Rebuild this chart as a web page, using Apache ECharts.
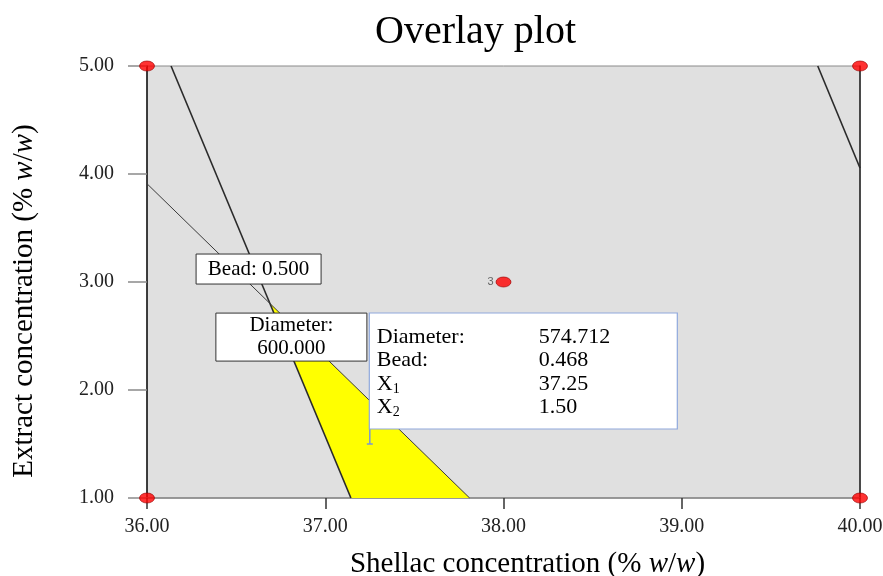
<!DOCTYPE html>
<html><head><meta charset="utf-8">
<script src="https://cdn.jsdelivr.net/npm/echarts@6/dist/echarts.min.js"></script>
<style>html,body{margin:0;padding:0;background:#fff;overflow:hidden}#c{width:883px;height:576px}</style>
</head><body><div id="c"></div>
<script>
// ---- data ----
const chartTitle = 'Overlay plot';
const xMin = 36, xMax = 40, xStep = 1;
const yMin = 1, yMax = 5, yStep = 1;
const designPoints = [[36, 5], [40, 5], [36, 1], [40, 1], [38, 3]];
const designLabels = ['', '', '', '', '3'];
const diameterContour = [[36.135, 5], [37.144, 1]];
const diameterContour2 = [[39.763, 5], [40, 4.056]];
const beadContour = [[36, 3.91], [37.81, 1]];
const sweetSpot = [[36.69, 2.80], [37.144, 1], [37.81, 1]];
const beadLabelPos = [36.626, 3.12];
const beadLabelText = 'Bead: 0.500';
const diamLabelPos = [36.81, 2.49];
const diamLabelText = 'Diameter:\n600.000';
const flagPoint = [37.25, 1.50];
const flagNames = ['Diameter:', 'Bead:', 'X|1', 'X|2'];
const flagValues = ['574.712', '0.468', '37.25', '1.50'];

const FONT = '"Liberation Serif", "Times New Roman", serif';
const chart = echarts.init(document.getElementById('c'), null, {renderer: 'canvas'});

function polygonSeries(points) {
  return {
    type: 'custom', z: 2, silent: true,
    data: [0],
    renderItem: function (params, api) {
      const pts = points.map(p => api.coord(p));
      return {type: 'polygon', shape: {points: pts},
        style: {fill: '#ffff00', stroke: null}};
    }
  };
}

chart.setOption({
  animation: false,
  backgroundColor: '#ffffff',
  title: {
    text: chartTitle, left: 370, top: 7,
    textStyle: {fontFamily: FONT, fontSize: 40, fontWeight: 'normal', color: '#000'}
  },
  grid: {
    left: 147, right: 23, top: 66, bottom: 78, containLabel: false, outerBoundsMode: 'none',
    show: true, backgroundColor: '#e0e0e0', borderColor: '#8a8a8a', borderWidth: 1
  },
  xAxis: {
    type: 'value', min: xMin, max: xMax, interval: xStep,
    name: 'Shellac concentration (% {i|w}/{i|w})',
    nameLocation: 'middle', nameGap: 52,
    nameTextStyle: {fontFamily: FONT, fontSize: 29, color: '#000', padding: [0, 0, 0, 48],
      rich: {i: {fontFamily: FONT, fontSize: 29, fontStyle: 'italic', color: '#000'}}},
    axisLine: {show: true, lineStyle: {color: '#8a8a8a', width: 1.5}},
    axisTick: {show: true, length: 11, lineStyle: {color: '#333', width: 1.5}},
    axisLabel: {fontFamily: FONT, fontSize: 20, color: '#222', margin: 19,
      formatter: v => v.toFixed(2)},
    splitLine: {show: false}
  },
  yAxis: [{
    type: 'value', min: yMin, max: yMax, interval: yStep,
    name: 'Extract concentration (% {i|w}/{i|w})',
    nameLocation: 'middle', nameGap: 108,
    nameTextStyle: {fontFamily: FONT, fontSize: 29, color: '#000', padding: [0, 38, 0, 0],
      rich: {i: {fontFamily: FONT, fontSize: 29, fontStyle: 'italic', color: '#000'}}},
    axisLine: {show: true, lineStyle: {color: '#111', width: 1.5}},
    axisTick: {show: true, length: 19, lineStyle: {color: '#8a8a8a', width: 1.5}},
    axisLabel: {fontFamily: FONT, fontSize: 20, color: '#222', margin: 33,
      formatter: v => v.toFixed(2)},
    splitLine: {show: false}
  }, {
    type: 'value', min: yMin, max: yMax, interval: yStep, position: 'right',
    axisLine: {show: true, lineStyle: {color: '#222', width: 1.5}},
    axisTick: {show: false}, axisLabel: {show: false}, splitLine: {show: false}
  }],
  series: [
    polygonSeries(sweetSpot),
    {type: 'line', data: diameterContour, showSymbol: false, z: 3, silent: true,
      lineStyle: {color: '#2a2a2a', width: 1.6}},
    {type: 'line', data: diameterContour2, showSymbol: false, z: 3, silent: true,
      lineStyle: {color: '#2a2a2a', width: 1.6}},
    {type: 'line', data: beadContour, showSymbol: false, z: 3, silent: true,
      lineStyle: {color: '#3a3a3a', width: 1}},
    {type: 'scatter', data: designPoints, z: 6, symbol: 'circle', symbolSize: [15, 10],
      itemStyle: {color: '#ff0000', borderColor: '#990000', borderWidth: 0.8},
      label: {show: true, position: 'left', distance: 2, fontFamily: 'Liberation Sans', fontSize: 11, color: '#444',
        formatter: p => designLabels[p.dataIndex]}}
  ]
});

function px(p) { return chart.convertToPixel({gridIndex: 0}, p); }
const bP = px(beadLabelPos), dP = px(diamLabelPos), fP = px(flagPoint);
const boxW = 308, boxH = 116, boxTop = fP[1] - 131;
const rowGap = 23.5;
const flagEls = [];
flagNames.forEach((n, i) => {
  const parts = n.split('|');
  const txt = parts.length > 1 ? '{m|' + parts[0] + '}{s|' + parts[1] + '}' : '{m|' + n + '}';
  flagEls.push({type: 'text', z: 102, left: fP[0] + 7, top: boxTop + 13 + i * rowGap,
    style: {text: txt, rich: {
      m: {fontFamily: FONT, fontSize: 22, fill: '#000'},
      s: {fontFamily: FONT, fontSize: 14, fill: '#000', padding: [10, 0, 0, 0]}}}});
  flagEls.push({type: 'text', z: 102, left: fP[0] + 169, top: boxTop + 13 + i * rowGap,
    style: {text: flagValues[i], fontFamily: FONT, fontSize: 22, fill: '#000'}});
});

chart.setOption({
  graphic: [
    {type: 'rect', z: 100, shape: {x: bP[0] - 62.5, y: bP[1] - 15, width: 125, height: 30},
      style: {fill: '#fff', stroke: '#333', lineWidth: 1}},
    {type: 'text', z: 101, x: bP[0], y: bP[1],
      style: {text: beadLabelText, fontFamily: FONT, fontSize: 21, fill: '#000', align: 'center', verticalAlign: 'middle'}},
    {type: 'rect', z: 100, shape: {x: dP[0] - 75.5, y: dP[1] - 24, width: 151, height: 48},
      style: {fill: '#fff', stroke: '#333', lineWidth: 1}},
    {type: 'text', z: 101, x: dP[0], y: dP[1],
      style: {text: diamLabelText, fontFamily: FONT, fontSize: 21, lineHeight: 23, fill: '#000', align: 'center', verticalAlign: 'middle'}},
    {type: 'line', z: 100, shape: {x1: fP[0], y1: boxTop + boxH, x2: fP[0], y2: fP[1]},
      style: {stroke: '#7a96d6', lineWidth: 1.5}},
    {type: 'line', z: 100, shape: {x1: fP[0] - 3, y1: fP[1], x2: fP[0] + 3, y2: fP[1]},
      style: {stroke: '#7a96d6', lineWidth: 1.5}},
    {type: 'rect', z: 100, shape: {x: fP[0] - 0.5, y: boxTop, width: boxW, height: boxH},
      style: {fill: '#fff', stroke: '#8fa8dc', lineWidth: 1.2}},
    ...flagEls
  ]
});
</script></body></html>
